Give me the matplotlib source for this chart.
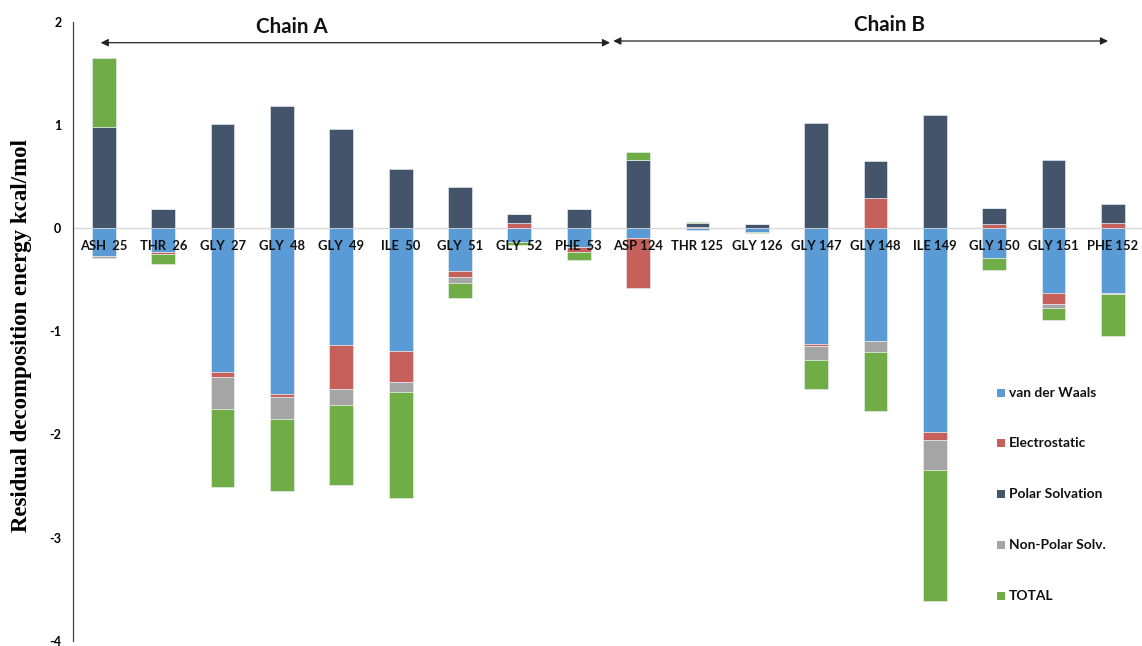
import matplotlib
matplotlib.use("Agg")
import matplotlib.pyplot as plt
import numpy as np
from matplotlib.patches import FancyArrowPatch, Rectangle

# Residues and per-term energy contributions (kcal/mol)
residues = ["ASH  25", "THR  26", "GLY  27", "GLY  48", "GLY  49", "ILE  50",
            "GLY  51", "GLY  52", "PHE  53", "ASP 124", "THR 125", "GLY 126",
            "GLY 147", "GLY 148", "ILE 149", "GLY 150", "GLY 151", "PHE 152"]

van_der_waals = [-0.27, -0.232, -1.40, -1.605, -1.134, -1.195, -0.42, -0.14, -0.184,
                 -0.10, -0.02, -0.035, -1.127, -1.091, -1.98, -0.287, -0.626, -0.626]
electrostatic = [0.0, -0.023, -0.045, -0.03, -0.43, -0.30, -0.055, 0.046, -0.048,
                 -0.48, 0.013, 0.0, -0.02, 0.29, -0.07, 0.043, -0.113, 0.052]
polar_solvation = [0.98, 0.18, 1.01, 1.18, 0.96, 0.57, 0.40, 0.094, 0.188,
                   0.66, 0.04, 0.035, 1.015, 0.36, 1.10, 0.147, 0.66, 0.178]
nonpolar_solv = [-0.02, 0.0, -0.31, -0.22, -0.15, -0.095, -0.055, 0.0, 0.0,
                 0.0, 0.0, 0.0, -0.136, -0.113, -0.30, 0.0, -0.036, -0.013]
total = [0.67, -0.097, -0.76, -0.69, -0.775, -1.03, -0.145, -0.028, -0.074,
         0.08, 0.01, -0.01, -0.28, -0.57, -1.27, -0.116, -0.12, -0.41]

series_names = ["van der Waals", "Electrostatic", "Polar Solvation",
                "Non-Polar Solv.", "TOTAL"]
series_colors = ["#5B9BD5", "#C5605A", "#44546A", "#A5A5A5", "#70AD47"]
series_values = [van_der_waals, electrostatic, polar_solvation, nonpolar_solv, total]

W, H = 1142, 646
fig = plt.figure(figsize=(W / 100, H / 100), dpi=100)
ax = fig.add_axes([73 / W, 1 - 640.7 / H, 1 - 73 / W, (640.7 - 21.7) / H])

x = np.arange(len(residues))
pos_base = np.zeros(len(residues))
neg_base = np.zeros(len(residues))
for vals, color in zip(series_values, series_colors):
    v = np.asarray(vals, dtype=float)
    bottom = np.where(v >= 0, pos_base, neg_base)
    ax.bar(x, v, 0.4, bottom=bottom, color=color, edgecolor="#eef2f6",
           linewidth=0.4, zorder=2)
    pos_base += np.clip(v, 0, None)
    neg_base += np.clip(v, None, 0)

ax.axhline(0, color="#d9d9d9", lw=1.0, zorder=1)
ax.set_xlim(-0.52, 17.49)
ax.set_ylim(-4, 2)
ax.set_xticks([])
ax.set_yticks(range(-4, 3))
ax.set_yticklabels([str(t) for t in range(-4, 3)], fontfamily="Lato",
                   fontweight="bold", fontsize=9)
ax.tick_params(axis="y", length=0, pad=8.3)
for s in ("top", "right", "bottom"):
    ax.spines[s].set_visible(False)
ax.spines["left"].set_color("#404040")
ax.spines["left"].set_linewidth(0.9)

for i, name in enumerate(residues):
    ax.text(i, -0.177, name, ha="center", va="center", fontfamily="Lato",
            fontweight="bold", fontsize=9.4, color="#111111", zorder=5)

fig.text(22 / W, 1 - 335 / H, "Residual decomposition energy kcal/mol",
         rotation=90, ha="center", va="center", fontfamily="Liberation Serif",
         fontweight="bold", fontsize=16.5)

# Chain annotations
def fx(px):
    return px / W

def fy(py):
    return 1 - py / H

for (x0, x1, yy) in [(100.7, 610.0, 42.7), (613.3, 1108.0, 41.0)]:
    fig.patches.append(FancyArrowPatch((fx(x0), fy(yy)), (fx(x1), fy(yy)),
                                       transform=fig.transFigure,
                                       arrowstyle="<|-|>", mutation_scale=11,
                                       color="#222222", lw=0.9,
                                       shrinkA=0, shrinkB=0))
fig.text(fx(292), fy(27), "Chain A", ha="center", va="center", fontfamily="Lato",
         fontweight="bold", fontsize=14.8, color="#111111")
fig.text(fx(889), fy(25), "Chain B", ha="center", va="center", fontfamily="Lato",
         fontweight="bold", fontsize=14.8, color="#111111")

# Legend
row_y = [392.7, 443.3, 494.3, 545.0, 596.0]
for name, color, ry in zip(series_names, series_colors, row_y):
    fig.patches.append(Rectangle((fx(996.7), fy(ry + 4)), 8 / W, 8 / H,
                                 transform=fig.transFigure, facecolor=color,
                                 edgecolor="none"))
    fig.text(fx(1009), fy(ry), name, ha="left", va="center", fontfamily="Lato",
             fontweight="bold", fontsize=9.9, color="#111111")

fig.savefig("out.png", dpi=100)
